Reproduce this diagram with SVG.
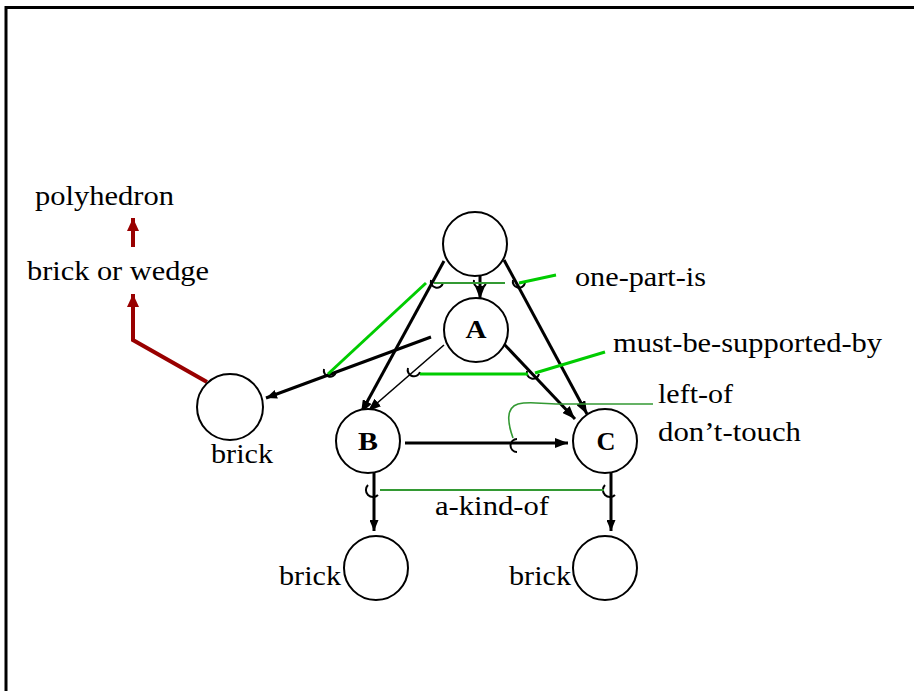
<svg xmlns="http://www.w3.org/2000/svg" width="914" height="691" viewBox="0 0 914 691">
<style>
.t{font-family:"Liberation Serif","Times New Roman",serif;font-size:28px;fill:#000}
.b{font-family:"Liberation Serif","Times New Roman",serif;font-size:25px;font-weight:bold;fill:#000}
.n{fill:#fff;stroke:#000;stroke-width:2}
.k{fill:none;stroke:#000;stroke-width:3}
.k2{fill:none;stroke:#000;stroke-width:1.6}
.g{fill:none;stroke:#00cc00;stroke-width:3}
.dg{fill:none;stroke:#339933;stroke-width:2}
.h{fill:none;stroke:#000;stroke-width:2}
.r{fill:none;stroke:#990000;stroke-width:4}
</style>
<defs>
<marker id="ah" markerUnits="userSpaceOnUse" markerWidth="14" markerHeight="10" refX="13" refY="5" orient="auto"><path d="M0,0 L13,5 L0,10 z" fill="#000"/></marker>
<marker id="ahs" markerUnits="userSpaceOnUse" markerWidth="12" markerHeight="9" refX="11" refY="4.5" orient="auto"><path d="M0,0 L11,4.5 L0,9 z" fill="#000"/></marker>
<marker id="ar" markerUnits="userSpaceOnUse" markerWidth="14" markerHeight="12" refX="13" refY="6" orient="auto"><path d="M0,0 L13,6 L0,12 z" fill="#990000"/></marker>
</defs>
<rect width="914" height="691" fill="#fff"/>
<path d="M6,691 V7.5 H914" fill="none" stroke="#000" stroke-width="3"/>

<g id="connectors">
<path class="r" d="M207,382 L133,340 V294" marker-end="url(#ar)"/>
<path class="r" d="M133,247 V218" marker-end="url(#ar)"/>
<path class="k" d="M444,261 L361,413" marker-end="url(#ah)"/>
<path class="k" d="M504,260 L587,414" marker-end="url(#ah)"/>
<path class="k" d="M480,276 V299" marker-end="url(#ah)"/>
<path class="k" d="M431,337 L266,398" marker-end="url(#ahs)"/>
<path class="k2" d="M444,345 L368,411" marker-end="url(#ah)"/>
<path class="k" d="M504,344 L575,419" marker-end="url(#ah)"/>
<path class="k" d="M405,443 H568" marker-end="url(#ah)"/>
<path class="k" d="M374,473 V531" marker-end="url(#ahs)"/>
<path class="k" d="M611,473 V531" marker-end="url(#ahs)"/>
<!-- hooks -->
<path class="h" d="M431,280 A6,6 0 0 0 443,283"/>
<path class="h" d="M474,280 A6,6 0 0 0 486,283"/>
<path class="h" d="M513,280 A6,6 0 0 0 525,283"/>
<path class="h" d="M324,369 A6,6 0 0 0 336,372"/>
<path class="h" d="M408,368 A6,6 0 0 0 420,372"/>
<path class="h" d="M527,371 A6,6 0 0 0 539,374"/>
<path class="h" d="M368,485 A6,6 0 0 0 378,495"/>
<path class="h" d="M605,485 A6,6 0 0 0 615,495"/>
<path class="h" d="M517,439 A6,6 0 1 0 517,452"/>
<!-- green -->
<path class="dg" d="M434,283 H505"/>
<path class="g" d="M519,283 L556,275"/>
<path class="g" d="M426,283 L328,374"/>
<path class="g" d="M420,374 H528"/>
<path class="g" d="M535,373 L605,352"/>
<path class="dg" d="M380,490 H604"/>
<path class="dg" style="stroke-width:1.6" d="M513,438 C508,424 505,408 518,404 C530,401 540,404 560,404 L653,404"/>
</g>

<g id="node-top"><circle class="n" cx="475" cy="244" r="32"/></g>
<g id="node-A"><circle class="n" cx="476" cy="330" r="32"/><text class="b" x="476" y="338" text-anchor="middle" textLength="21" lengthAdjust="spacingAndGlyphs">A</text></g>
<g id="node-B"><circle class="n" cx="368" cy="441" r="32"/><text class="b" x="368" y="450" text-anchor="middle" textLength="20" lengthAdjust="spacingAndGlyphs">B</text></g>
<g id="node-C"><circle class="n" cx="605" cy="441" r="32"/><text class="b" x="606" y="450" text-anchor="middle" textLength="19" lengthAdjust="spacingAndGlyphs">C</text></g>
<g id="node-brick-left"><circle class="n" cx="230" cy="407" r="33"/><text class="t" x="211" y="463" textLength="62" lengthAdjust="spacingAndGlyphs">brick</text></g>
<g id="node-brick-b"><circle class="n" cx="376" cy="568" r="32"/><text class="t" x="279" y="585" textLength="62" lengthAdjust="spacingAndGlyphs">brick</text></g>
<g id="node-brick-c"><circle class="n" cx="605" cy="568" r="32"/><text class="t" x="509" y="585" textLength="62" lengthAdjust="spacingAndGlyphs">brick</text></g>
<g id="node-polyhedron"><text class="t" x="35" y="205" textLength="139" lengthAdjust="spacingAndGlyphs">polyhedron</text></g>
<g id="node-brick-or-wedge"><text class="t" x="27" y="280" textLength="182" lengthAdjust="spacingAndGlyphs">brick or wedge</text></g>

<g id="labels">
<text class="t" x="575" y="286" textLength="131" lengthAdjust="spacingAndGlyphs">one-part-is</text>
<text class="t" x="613" y="352" textLength="269" lengthAdjust="spacingAndGlyphs">must-be-supported-by</text>
<text class="t" x="658" y="403" textLength="75" lengthAdjust="spacingAndGlyphs">left-of</text>
<text class="t" x="658" y="441" textLength="143" lengthAdjust="spacingAndGlyphs">don’t-touch</text>
<text class="t" x="435" y="515" textLength="114" lengthAdjust="spacingAndGlyphs">a-kind-of</text>
</g>
</svg>
